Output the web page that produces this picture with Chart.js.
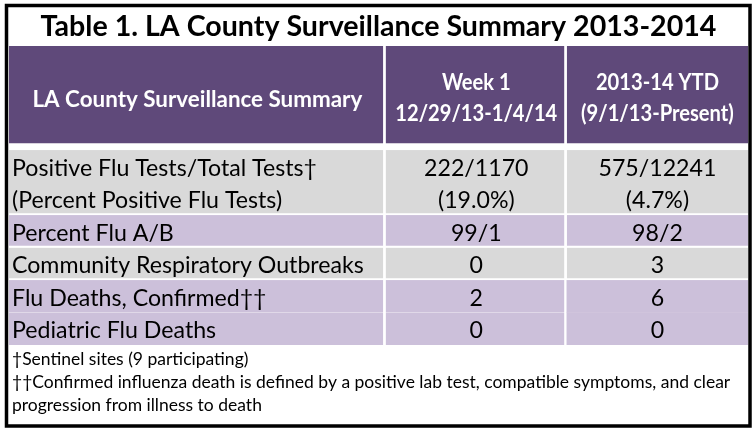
<!DOCTYPE html>
<html><head><meta charset="utf-8">
<script src="https://cdn.jsdelivr.net/npm/chart.js@4.4.1/dist/chart.umd.min.js"></script>
<style>html,body{margin:0;padding:0;background:#fff;overflow:hidden}canvas{display:block}</style>
</head><body>
<canvas id="c" width="756" height="432"></canvas>
<script>
// ---------------- data ----------------
const tableTitle = 'Table 1. LA County Surveillance Summary 2013-2014';
const headerLabel = 'LA County Surveillance Summary';
const periodNames = ['Week 1', '2013-14 YTD'];
const periodRanges = ['12/29/13-1/4/14', '(9/1/13-Present)'];
const rowLabels = [
  ['Positive Flu Tests/Total Tests\u2020', '(Percent Positive Flu Tests)'],
  ['Percent Flu A/B'],
  ['Community Respiratory Outbreaks'],
  ['Flu Deaths, Confirmed\u2020\u2020'],
  ['Pediatric Flu Deaths']
];
const positiveFluTests = [222, 575];
const totalTests = [1170, 12241];
const percentPositive = [19.0, 4.7];
const percentFluA = [99, 98];
const percentFluB = [1, 2];
const respiratoryOutbreaks = [0, 3];
const fluDeathsConfirmed = [2, 6];
const pediatricFluDeaths = [0, 0];
const footnotes = [
  '\u2020Sentinel sites (9 participating)',
  '\u2020\u2020Confirmed influenza death is defined by a positive lab test, compatible symptoms, and clear',
  'progression from illness to death'
];

// ---------------- styles / layout ----------------
const FONT = 'Lato, "Open Sans", sans-serif';
const HEADER_COLOR = '#5F497A';
const ROW_COLORS = ['#D9D9D9', '#CCC0DA', '#D9D9D9', '#CCC0DA', '#CCC0DA'];
const ROW_GAPS = [2, 2, 2, 0, 0];
const HEADER_GAP = 7;
const HEADER_LINES = 3.2;
const COLUMN_WEIGHTS = [2.08, 1, 1];
const COL_GAP = 3;
const PAD = {left: 9, right: 8, top: 46, bottom: 87};
const W = 756, H = 432;

// cell texts per body row, per period
function periodCells(p) {
  return [
    [positiveFluTests[p] + '/' + totalTests[p], '(' + percentPositive[p].toFixed(1) + '%)'],
    [percentFluA[p] + '/' + percentFluB[p]],
    [String(respiratoryOutbreaks[p])],
    [String(fluDeathsConfirmed[p])],
    [String(pediatricFluDeaths[p])]
  ];
}
const week1Cells = periodCells(0);
const ytdCells = periodCells(1);

// column edges in scale units
const colEdges = [0];
COLUMN_WEIGHTS.forEach(w => colEdges.push(colEdges[colEdges.length - 1] + w));
const xMax = colEdges[colEdges.length - 1];

// rows in line units
const rows = [{start: 0, lines: HEADER_LINES, color: HEADER_COLOR, gap: HEADER_GAP, header: true}];
let acc = HEADER_LINES;
rowLabels.forEach((lab, r) => {
  rows.push({start: acc, lines: lab.length, color: ROW_COLORS[r], gap: ROW_GAPS[r], header: false,
             cells: [lab, week1Cells[r], ytdCells[r]]});
  acc += lab.length;
});
const yMax = acc;
const unitPx = (H - PAD.top - PAD.bottom) / yMax;

const datasets = rows.map(row => ({
  data: [0, 1, 2].map(c => ({x: [colEdges[c], colEdges[c + 1]], y: row.start + row.lines / 2})),
  backgroundColor: row.color,
  borderColor: '#FFFFFF',
  borderSkipped: false,
  borderWidth: ctx => ({top: 0, left: 0, right: ctx.dataIndex < 2 ? COL_GAP : 0, bottom: row.gap}),
  barThickness: row.lines * unitPx,
  grouped: false
}));

// text styles: size fitted to a reference width; optional horizontal condensing
const mctx = document.createElement('canvas').getContext('2d');
function fitSize(weight, refText, refWidth) {
  mctx.font = weight + ' 100px ' + FONT;
  return 100 * refWidth / mctx.measureText(refText).width;
}
function makeStyle(weight, size, sx) {
  mctx.font = weight + ' ' + size + 'px ' + FONT;
  return {font: weight + ' ' + size + 'px ' + FONT, sx: sx, cap: mctx.measureText('H').actualBoundingBoxAscent};
}
const TITLE = makeStyle('bold', fitSize('bold', tableTitle, 676), 1);
const headSize = fitSize('bold', headerLabel, 330);
const HEAD = makeStyle('bold', headSize, 1);
mctx.font = 'bold ' + headSize + 'px ' + FONT;
const PERIOD = makeStyle('bold', headSize, Math.min(1, 162 / mctx.measureText(periodRanges[0]).width));
const BODY = makeStyle('normal', fitSize('normal', 'Community Respiratory Outbreaks', 352), 1);
const NOTE = makeStyle('normal', fitSize('normal', footnotes[1], 719), 1);

function drawText(ctx, st, t, px, py, align) {
  ctx.save();
  ctx.font = st.font;
  ctx.textAlign = align;
  ctx.textBaseline = 'alphabetic';
  ctx.translate(px, py);
  ctx.scale(st.sx, 1);
  ctx.fillText(t, 0, 0);
  ctx.restore();
}

const tablePlugin = {
  id: 'tableText',
  beforeDraw(chart) {
    const ctx = chart.ctx;
    ctx.save();
    ctx.fillStyle = '#FFFFFF';
    ctx.fillRect(0, 0, chart.width, chart.height);
    ctx.restore();
  },
  afterDraw(chart) {
    const {ctx, chartArea: a, scales: {x, y}} = chart;
    const colCenter = c => x.getPixelForValue((colEdges[c] + colEdges[c + 1]) / 2);
    ctx.save();
    // title
    ctx.fillStyle = '#000000';
    drawText(ctx, TITLE, tableTitle, (a.left + a.right) / 2, a.top - 10, 'center');

    // header
    ctx.fillStyle = '#FFFFFF';
    drawText(ctx, HEAD, headerLabel, colCenter(0), y.getPixelForValue(HEADER_LINES / 2) + HEAD.cap / 2, 'center');
    for (let p = 0; p < 2; p++) {
      drawText(ctx, PERIOD, periodNames[p], colCenter(p + 1), y.getPixelForValue(HEADER_LINES / 2 - 0.52) + PERIOD.cap / 2, 'center');
      drawText(ctx, PERIOD, periodRanges[p], colCenter(p + 1), y.getPixelForValue(HEADER_LINES / 2 + 0.45) + PERIOD.cap / 2, 'center');
    }

    // body
    ctx.fillStyle = '#000000';
    rows.forEach(row => {
      if (row.header) return;
      row.cells.forEach((lines, c) => {
        lines.forEach((t, i) => {
          const py = y.getPixelForValue(row.start + i + 0.5) + BODY.cap / 2 + 1;
          if (c === 0) drawText(ctx, BODY, t, x.getPixelForValue(colEdges[0]) + 3, py, 'left');
          else drawText(ctx, BODY, t, colCenter(c), py, 'center');
        });
      });
    });

    // footnotes
    footnotes.forEach((t, i) => drawText(ctx, NOTE, t, a.left + 3, a.bottom + 20 + i * 22.8, 'left'));

    // outer frame
    ctx.strokeStyle = '#000000';
    ctx.lineWidth = 3.5;
    ctx.strokeRect(6.5, 5.5, 743.5, 420.5);
    ctx.restore();
  }
};

new Chart(document.getElementById('c').getContext('2d'), {
  type: 'bar',
  data: {datasets},
  options: {
    indexAxis: 'y',
    responsive: false,
    animation: false,
    devicePixelRatio: window.devicePixelRatio || 1,
    layout: {padding: PAD},
    scales: {
      x: {type: 'linear', display: false, min: 0, max: xMax, offset: false},
      y: {type: 'linear', display: false, min: 0, max: yMax, reverse: true, offset: false}
    },
    plugins: {legend: {display: false}, tooltip: {enabled: false}, title: {display: false}}
  },
  plugins: [tablePlugin]
});
</script>
</body></html>
